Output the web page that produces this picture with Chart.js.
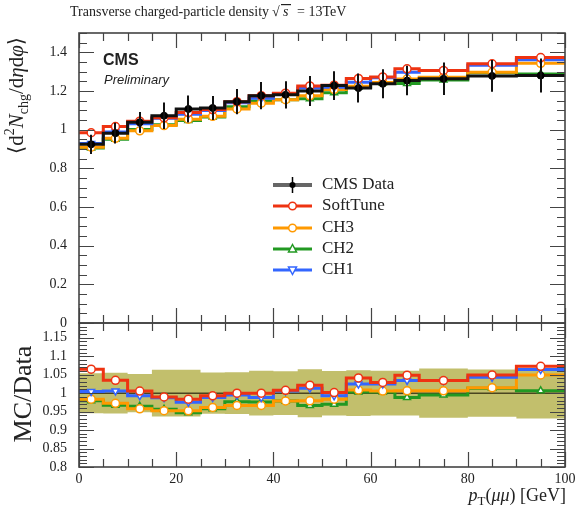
<!DOCTYPE html>
<html>
<head>
<meta charset="utf-8">
<script src="https://cdn.jsdelivr.net/npm/chart.js@4.4.0/dist/chart.umd.min.js"></script>
<style>
  html, body { margin: 0; padding: 0; background: #fff; }
  #wrap { position: relative; width: 580px; height: 516px; }
  #wrap canvas { position: absolute; left: 0; top: 0; }
</style>
</head>
<body>
<div id="wrap">
  <canvas id="ratio" width="580" height="516"></canvas>
  <canvas id="main" width="580" height="516"></canvas>
</div>
<script>
// bins in pT(mumu) [GeV]
const binEdges = [0, 5, 10, 15, 20, 25, 30, 35, 40, 45, 50, 55, 60, 65, 70, 80, 90, 100];

const cmsData = [0.924, 0.982, 1.038, 1.072, 1.107, 1.112, 1.145, 1.176, 1.180, 1.200, 1.228, 1.215, 1.237, 1.254, 1.263, 1.278, 1.280];
const cmsErr  = [0.050, 0.054, 0.054, 0.068, 0.070, 0.062, 0.065, 0.071, 0.070, 0.078, 0.074, 0.075, 0.075, 0.076, 0.084, 0.082, 0.088];
const softTune = [0.984, 1.016, 1.044, 1.061, 1.089, 1.104, 1.145, 1.176, 1.189, 1.226, 1.230, 1.265, 1.273, 1.315, 1.306, 1.341, 1.373];
const ch3 = [0.909, 0.955, 0.994, 1.021, 1.054, 1.069, 1.107, 1.137, 1.155, 1.175, 1.208, 1.225, 1.244, 1.262, 1.271, 1.297, 1.343];
const ch2 = [0.905, 0.950, 1.001, 1.025, 1.048, 1.065, 1.118, 1.148, 1.155, 1.160, 1.191, 1.219, 1.241, 1.239, 1.257, 1.295, 1.288];
const ch1 = [0.928, 0.988, 1.031, 1.059, 1.080, 1.099, 1.139, 1.162, 1.187, 1.216, 1.219, 1.245, 1.268, 1.297, 1.306, 1.333, 1.362];

const xTicks = [0, 20, 40, 60, 80, 100];
const mainTicks = [0, 0.2, 0.4, 0.6, 0.8, 1, 1.2, 1.4];
const ratioTicks = [0.8, 0.85, 0.9, 0.95, 1, 1.05, 1.1, 1.15];

const series = [
  { label: 'SoftTune', values: softTune, color: '#ee3311', point: 'circle', rot: 0 },
  { label: 'CH3', values: ch3, color: '#ff9900', point: 'circle', rot: 0 },
  { label: 'CH2', values: ch2, color: '#229922', point: 'triangle', rot: 0 },
  { label: 'CH1', values: ch1, color: '#3366ff', point: 'triangle', rot: 180 }
];
// drawing order, top first
const drawOrder = [0, 3, 1, 2];

const SERIF = '"Liberation Serif", "DejaVu Serif", serif';
const SANS = '"Liberation Sans", Arial, sans-serif';
const LEFT = 79;

const centers = binEdges.slice(0, -1).map((e, i) => (e + binEdges[i + 1]) / 2);
const ratioOf = vals => vals.map((v, i) => v / cmsData[i]);

function steps(values) {
  return binEdges.map((e, i) => ({ x: e, y: values[Math.min(i, values.length - 1)] }));
}
function marks(values) {
  return centers.map((c, i) => ({ x: c, y: values[i] }));
}
function lineSet(values, color, width) {
  return { data: steps(values), borderColor: color, borderWidth: width, stepped: true,
           pointRadius: 0, fill: false };
}
function markSet(values, s) {
  return { data: marks(values), showLine: false, pointStyle: s.point, rotation: s.rot,
           pointRadius: 4, pointBorderWidth: 1.5, pointBorderColor: s.color,
           pointBackgroundColor: '#fff', borderColor: s.color };
}

function richWidth(ctx, parts) {
  let w = 0;
  parts.forEach(p => { ctx.font = p.font; w += ctx.measureText(p.t).width; });
  return w;
}
function richText(ctx, parts, x, y) {
  let cx = x;
  parts.forEach(p => {
    ctx.font = p.font;
    ctx.fillText(p.t, cx, y + (p.dy || 0));
    cx += ctx.measureText(p.t).width;
  });
}

function drawFrame(chart, yMinor, yMajor) {
  const { ctx, chartArea: a, scales: { x, y } } = chart;
  ctx.save();
  ctx.strokeStyle = '#444';
  ctx.lineWidth = 1.2;
  ctx.beginPath();
  for (let v = 0; v <= 100; v += 5) {
    const px = Math.round(x.getPixelForValue(v)) + 0.5;
    const len = v % 20 === 0 ? 15 : 8;
    ctx.moveTo(px, a.bottom); ctx.lineTo(px, a.bottom - len);
    ctx.moveTo(px, a.top); ctx.lineTo(px, a.top + len);
  }
  const n = Math.round((y.max - y.min) / yMinor);
  for (let i = 0; i <= n; i++) {
    const v = y.min + i * yMinor;
    if (v > y.max + 1e-9) break;
    const py = Math.round(y.getPixelForValue(v)) + 0.5;
    const q = v / yMajor;
    const len = Math.abs(q - Math.round(q)) < 1e-6 ? 15 : 8;
    ctx.moveTo(a.left, py); ctx.lineTo(a.left + len, py);
    ctx.moveTo(a.right, py); ctx.lineTo(a.right - len, py);
  }
  ctx.stroke();
  ctx.lineWidth = 1.6;
  ctx.strokeRect(a.left, a.top, a.right - a.left, a.bottom - a.top);
  ctx.restore();
}

function scaleOptions(yMin, yMax, yTickVals, showX, xHeight) {
  const tickFont = { family: SERIF, size: 14 };
  return {
    x: {
      type: 'linear', min: 0, max: 100,
      afterBuildTicks: s => { s.ticks = xTicks.map(v => ({ value: v })); },
      afterFit: s => { s.height = xHeight; },
      grid: { display: false, drawTicks: false },
      border: { display: false },
      ticks: { display: showX, font: tickFont, color: '#222', padding: 4, maxRotation: 0 }
    },
    y: {
      type: 'linear', min: yMin, max: yMax,
      afterBuildTicks: s => { s.ticks = yTickVals.map(v => ({ value: v })); },
      afterFit: s => { s.width = LEFT; },
      grid: { display: false, drawTicks: false },
      border: { display: false },
      ticks: { font: tickFont, color: '#222', padding: 12,
               callback: v => String(+v.toFixed(2)) }
    }
  };
}

// ---------- main panel ----------
const mainDatasets = [
  { data: marks(cmsData), showLine: false, pointStyle: 'circle', pointRadius: 3.5,
    pointBackgroundColor: '#000', pointBorderColor: '#000', borderColor: '#000' },
  lineSet(cmsData, '#111', 3)
];
drawOrder.forEach(k => mainDatasets.push(markSet(series[k].values, series[k])));
drawOrder.forEach(k => mainDatasets.push(lineSet(series[k].values, series[k].color, 3)));

const mainDecor = {
  id: 'mainDecor',
  afterDatasetsDraw(chart) {
    const { ctx, scales: { x, y } } = chart;
    ctx.save();
    ctx.strokeStyle = '#111';
    ctx.lineWidth = 2;
    ctx.beginPath();
    centers.forEach((c, i) => {
      const px = Math.round(x.getPixelForValue(c));
      ctx.moveTo(px, y.getPixelForValue(cmsData[i] - cmsErr[i]));
      ctx.lineTo(px, y.getPixelForValue(cmsData[i] + cmsErr[i]));
    });
    ctx.stroke();
    ctx.restore();
  },
  afterDraw(chart) {
    const ctx = chart.ctx;
    drawFrame(chart, 0.05, 0.2);
    ctx.save();
    ctx.fillStyle = '#222';
    ctx.textBaseline = 'alphabetic';

    // title
    ctx.font = '14px ' + SERIF;
    ctx.fillText('Transverse charged-particle density', 70, 16);
    ctx.fillText('\u221A', 272, 16);
    ctx.font = 'italic 14px ' + SERIF;
    ctx.fillText('s', 283, 16);
    ctx.fillRect(281, 4, 10, 1.2);
    ctx.font = '14px ' + SERIF;
    ctx.fillText('= 13TeV', 297, 16);

    // CMS label
    ctx.font = 'bold 16px ' + SANS;
    ctx.fillText('CMS', 103, 65);
    ctx.font = 'italic 13px ' + SANS;
    ctx.fillText('Preliminary', 104, 84);

    // y axis title
    const yParts = [
      { t: '\u27E8d', font: '21px ' + SERIF },
      { t: '2', font: '14px ' + SERIF, dy: -9 },
      { t: 'N', font: 'italic 21px ' + SERIF },
      { t: 'chg', font: '14px ' + SERIF, dy: 5 },
      { t: '/d', font: '21px ' + SERIF },
      { t: '\u03B7', font: 'italic 21px ' + SERIF },
      { t: 'd', font: '21px ' + SERIF },
      { t: '\u03C6', font: 'italic 21px ' + SERIF },
      { t: '\u27E9', font: '21px ' + SERIF }
    ];
    const w = richWidth(ctx, yParts);
    ctx.save();
    ctx.translate(23, 37 + w);
    ctx.rotate(-Math.PI / 2);
    richText(ctx, yParts, 0, 0);
    ctx.restore();

    // legend
    const rows = [{ label: 'CMS Data', data: true }].concat(series);
    rows.forEach((r, i) => {
      const ly = Math.round(185 + i * 21.3);
      if (r.data) {
        ctx.strokeStyle = '#666'; ctx.lineWidth = 4;
        ctx.beginPath(); ctx.moveTo(273, ly); ctx.lineTo(312, ly); ctx.stroke();
        ctx.strokeStyle = '#000'; ctx.lineWidth = 1.5;
        ctx.beginPath(); ctx.moveTo(292.5, ly - 8); ctx.lineTo(292.5, ly + 8); ctx.stroke();
        ctx.fillStyle = '#000';
        ctx.beginPath(); ctx.arc(292.5, ly, 3, 0, Math.PI * 2); ctx.fill();
      } else {
        ctx.strokeStyle = r.color; ctx.lineWidth = 3;
        ctx.beginPath(); ctx.moveTo(273, ly); ctx.lineTo(312, ly); ctx.stroke();
        ctx.lineWidth = 1.5; ctx.fillStyle = '#fff';
        ctx.beginPath();
        if (r.point === 'circle') {
          ctx.arc(292.5, ly, 3.8, 0, Math.PI * 2);
        } else {
          const s = r.rot ? -1 : 1;
          ctx.moveTo(292.5, ly - 4.5 * s);
          ctx.lineTo(296.5, ly + 3 * s);
          ctx.lineTo(288.5, ly + 3 * s);
          ctx.closePath();
        }
        ctx.fill(); ctx.stroke();
      }
      ctx.fillStyle = '#222';
      ctx.font = '17px ' + SERIF;
      ctx.textBaseline = 'middle';
      ctx.fillText(r.label, 322, ly);
      ctx.textBaseline = 'alphabetic';
    });
    ctx.restore();
  }
};

new Chart(document.getElementById('main'), {
  type: 'line',
  data: { datasets: mainDatasets },
  options: {
    responsive: false, animation: false,
    layout: { padding: { left: 0, top: 33, right: 15, bottom: 516 - 323 } },
    plugins: { legend: { display: false }, tooltip: { enabled: false } },
    scales: scaleOptions(0, 1.5, mainTicks, false, 0)
  },
  plugins: [mainDecor]
});

// ---------- ratio panel ----------
const bandUp = cmsErr.map((e, i) => 1 + e / cmsData[i]);
const bandDown = cmsErr.map((e, i) => 1 - e / cmsData[i]);
const ratioDatasets = [];
drawOrder.forEach(k => ratioDatasets.push(markSet(ratioOf(series[k].values), series[k])));
drawOrder.forEach(k => ratioDatasets.push(lineSet(ratioOf(series[k].values), series[k].color, 3)));
ratioDatasets.push(lineSet(ratioOf(cmsData), '#4a4520', 1.5));
ratioDatasets.push({ data: steps(bandUp), stepped: true, borderWidth: 0, pointRadius: 0,
                     backgroundColor: '#c2bf6c', fill: '+1' });
ratioDatasets.push({ data: steps(bandDown), stepped: true, borderWidth: 0, pointRadius: 0,
                     fill: false });

const ratioDecor = {
  id: 'ratioDecor',
  afterDraw(chart) {
    const ctx = chart.ctx;
    drawFrame(chart, 0.01, 0.05);
    ctx.save();
    ctx.fillStyle = '#222';
    // y title
    ctx.save();
    ctx.translate(31, 394);
    ctx.rotate(-Math.PI / 2);
    ctx.font = '26px ' + SERIF;
    ctx.textAlign = 'center';
    ctx.fillText('MC/Data', 0, 0);
    ctx.restore();
    // x title
    const xParts = [
      { t: 'p', font: 'italic 18px ' + SERIF },
      { t: 'T', font: '13px ' + SERIF, dy: 4 },
      { t: '(', font: '18px ' + SERIF },
      { t: '\u03BC\u03BC', font: 'italic 18px ' + SERIF },
      { t: ') [GeV]', font: '18px ' + SERIF }
    ];
    const w = richWidth(ctx, xParts);
    richText(ctx, xParts, 566 - w, 501);
    ctx.restore();
  }
};

new Chart(document.getElementById('ratio'), {
  type: 'line',
  data: { datasets: ratioDatasets },
  options: {
    responsive: false, animation: false,
    layout: { padding: { left: 0, top: 323, right: 15, bottom: 0 } },
    plugins: { legend: { display: false }, tooltip: { enabled: false } },
    scales: scaleOptions(0.8, 1.19, ratioTicks, true, 516 - 467)
  },
  plugins: [ratioDecor]
});
</script>
</body>
</html>
